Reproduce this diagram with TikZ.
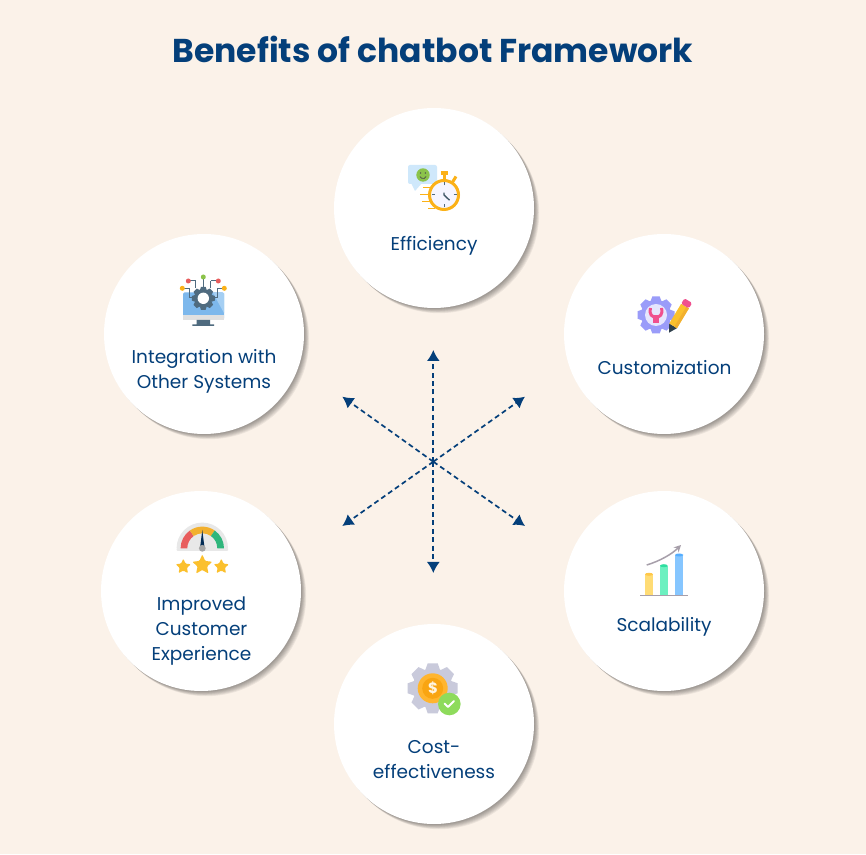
\documentclass[tikz,border=0pt]{standalone}
\usepackage{fontspec}
\usepackage{xcolor}
\setmainfont{Poppins}
\usetikzlibrary{positioning,arrows.meta,shapes.geometric}

\definecolor{pagebg}{HTML}{FBF2E9}
\definecolor{navy}{HTML}{043F7A}
\definecolor{watch}{HTML}{FBB117}
\definecolor{slate}{HTML}{4F6B7F}
\definecolor{lilac}{HTML}{9A9CF9}
\definecolor{hotpink}{HTML}{F0508E}
\definecolor{stargold}{HTML}{FBC02D}
\definecolor{steel}{HTML}{C9CADB}
\definecolor{mauve}{HTML}{A79FAA}
\definecolor{bubble}{HTML}{CFE8FB}
\definecolor{smile}{HTML}{8BC34A}
\definecolor{screen}{HTML}{7DB8EC}
\definecolor{screenlit}{HTML}{A5CFF3}
\definecolor{gaugered}{HTML}{E85D5D}
\definecolor{gaugeamber}{HTML}{F2B02E}
\definecolor{gaugegreen}{HTML}{2FB67C}
\definecolor{barblue}{HTML}{86C6FF}
\definecolor{barbluetop}{HTML}{55AEFF}
\definecolor{barmint}{HTML}{6CF0C0}
\definecolor{barminttop}{HTML}{2EDFA0}
\definecolor{baryellow}{HTML}{FFDC75}
\definecolor{baryellowtop}{HTML}{FFC84A}
\definecolor{coin}{HTML}{FFB52E}
\definecolor{coindeep}{HTML}{F59A00}
\definecolor{tick}{HTML}{8EDB5C}

% teeth and body of a cog: centre, outer radius, root radius, colour
\newcommand{\cogwheel}[4]{
 \fill[#4] (#1) circle (#3);
 \foreach \ang in {0,45,...,315}
  \fill[#4,rotate around={\ang:(#1)}] ([xshift=-#2*0.3pt,yshift=#3*0.9pt]#1) -- ([xshift=-#2*0.2pt,yshift=#2*1pt]#1)
   -- ([xshift=#2*0.2pt,yshift=#2*1pt]#1) -- ([xshift=#2*0.3pt,yshift=#3*0.9pt]#1) -- cycle;
}

\begin{document}
\begin{tikzpicture}[
 x=1pt,y=1pt,
 disc/.style={circle,fill=white,minimum size=200pt,inner sep=0pt},
 shade/.style={fill=black,opacity=0.06},
 lab/.style={font=\fontsize{18.5}{25}\selectfont,text=navy,align=center},
 spoke/.style={-{Latex[length=11pt,width=13pt]},navy,line width=1.7pt,dash pattern=on 5pt off 3.4pt},
 rim/.style={draw=slate,line width=1pt},
 ratestar/.style={star,star points=5,star point ratio=2.1,fill=stargold,inner sep=0pt,rounded corners=1pt}
]
\fill[pagebg] (0,0) rectangle (866,854);
\useasboundingbox (0,0) rectangle (866,854);

\node[font=\fontsize{33}{38}\selectfont\bfseries,text=navy] (title) at (433,805) {Benefits of chatbot Framework};

\foreach \nm/\cx/\cy in {top/434/646,upleft/204/520,upright/664/520,lowleft/201/263,lowright/664/263,bottom/434/130}{
 \foreach \o in {1,1.7,2.4,3.1,3.8,4.5,5.2}
  \fill[shade] (\cx+\o,\cy-\o) circle (100);
 \node[disc] (\nm) at (\cx,\cy) {};
}

\node[lab] (efficiency) at (434,608) {Efficiency};
\node[lab] (integration) at (204,483) {Integration with\\Other Systems};
\node[lab] (customization) at (664.5,486) {Customization};
\node[lab] (experience) at (201.5,223) {Improved\\Customer\\Experience};
\node[lab] (scalability) at (664,227) {Scalability};
\node[lab] (cost) at (434,94) {Cost-\\effectiveness};

\coordinate (hub) at (433.3,392.3);
\coordinate (tipn) at (433.3,504);
\coordinate (tips) at (433.3,281);
\coordinate (tipnw) at (342.3,457.3);
\coordinate (tipne) at (525,457.3);
\coordinate (tipsw) at (342.3,328);
\coordinate (tipse) at (525,328);
\foreach \a in {tipn,tips,tipnw,tipne,tipsw,tipse}
 \draw[spoke] (hub)--(\a);

% efficiency
\fill[bubble,rounded corners=2pt] (408,689) rectangle (437,670);
\fill[bubble] (411,671)--(415,663)--(422,671)--cycle;
\fill[smile] (423,679) circle (6.7);
\fill[black!70] (420.6,681) circle (0.8) (425.4,681) circle (0.8);
\draw[black!70,line width=0.7pt] (420,677.5) arc (200:340:3.2);
\foreach \xa/\xb/\yy in {423/432/666.3,420/428/659.7,422/430/652.3,428/435/645.7}
 \draw[watch,line width=1.4pt] (\xa,\yy)--(\xb,\yy);
\fill[watch] (441,679) rectangle (447.5,682.5);
\fill[watch] (442.5,672) rectangle (445.5,680);
\draw[watch,line width=3pt] (452,671)--(456,677.5);
\draw[watch,fill=blue!4,line width=3pt] (444,659) circle (14.5);
\foreach \ang in {0,90,180,270}
 \draw[slate,line width=1pt] (444,659)++(\ang:9.5)--++(\ang:3);
\draw[slate!80!black,line width=1.4pt,line cap=round] (449.3,654)--(444,659)--(444,661);

% integration
\fill[screen,rounded corners=1.5pt] (183,561.7) rectangle (224,534);
\fill[screenlit] (224,561)--(213,561)--(224,541)--cycle;
\fill[black!12] (183,539) rectangle (224,534);
\fill[slate] (196.7,534) rectangle (210,529) (192.3,529.5) rectangle (214,528);
\foreach \x in {195.7,210.9}
 \draw[rim] (\x,566)--(\x,573);
\draw[rim] (188.3,573)--(195.7,573);
\draw[rim] (218.3,573)--(210.9,573);
\draw[rim] (182.3,565.7)--(189.3,565.7)--(189.3,556.7)--(193.3,556.7);
\draw[rim] (224.3,565.7)--(217.3,565.7)--(217.3,556.7)--(213.3,556.7);
\draw[rim] (203.3,577)--(203.3,566);
\cogwheel{203.3,555.7}{11.5}{9}{slate}
\fill[white] (203.3,555.7) circle (5.7);
\fill[smile] (203.3,577) circle (2.5);
\fill[gaugered] (188.3,573) circle (2.5) (218.3,573) circle (2.5);
\fill[watch] (182.3,565.7) circle (2.5) (224.3,565.7) circle (2.5);

% customization
\cogwheel{656,539}{18.5}{15}{lilac}
\fill[lilac!25!white] (656,539) circle (11);
\draw[hotpink,line width=3pt] (650.5,546) .. controls (649,539) and (652,537) .. (656,537) .. controls (660,537) and (663,539) .. (661.5,546);
\fill[hotpink] (653.3,539) rectangle (658.7,530.5);
\begin{scope}[shift={(669,521.3)},rotate=59]
 \fill[slate!60!black] (0,0)--(8,4.5)--(8,-4.5)--cycle;
 \fill[stargold] (8,-4.5) rectangle (31,4.5);
 \fill[gaugeamber] (8,-4.5) rectangle (31,-1.5);
 \fill[hotpink,rounded corners=1.5pt] (31,-4.5) rectangle (37.4,4.5);
\end{scope}

% experience
\fill[black!9,rounded corners=1pt] (176.6,303) rectangle (228,306);
\fill[black!9] (228,305.7) arc (0:180:25.7)--cycle;
\begin{scope}[shift={(202.3,305.7)}]
 \foreach \ang/\angb/\col in {180/125/gaugered,125/55/gaugeamber,55/0/gaugegreen}
  \fill[\col] (\ang:21.7) arc (\ang:\angb:21.7)--(\angb:15) arc (\angb:\ang:15)--cycle;
 \fill[navy!70!black] (-2.3,0)--(0,18.3)--(2.3,0)--cycle;
 \fill[black!35] (0,0) circle (3.4);
\end{scope}
\node[ratestar,minimum size=16pt] (starl) at (183.3,287.3) {};
\node[ratestar,minimum size=21pt] (starm) at (202.3,289) {};
\node[ratestar,minimum size=16pt] (starr) at (221.3,287.3) {};

% scalability
\fill[baryellow] (645,258.7) rectangle (653,279.7);
\fill[baryellowtop] (649,279.7) ellipse (4 and 1.5);
\fill[barmint] (660,258.7) rectangle (667.7,288.3);
\fill[barminttop] (663.85,288.3) ellipse (3.85 and 1.5);
\fill[barblue] (675,258.7) rectangle (683.3,299);
\fill[barbluetop] (679.15,299) ellipse (4.15 and 1.5);
\draw[mauve,line width=1.5pt] (640,258.7)--(687.7,258.7);
\draw[mauve,line width=1.5pt,-{Stealth[length=7pt,width=7pt]}] (646.7,289) .. controls (660,293) and (672,300) .. (681,309);

% cost
\cogwheel{432.7,165.7}{25}{20}{steel}
\fill[coin] (432.7,165.7) circle (15);
\fill[coindeep!60!coin] (432.7,165.7) circle (10.5);
\node[font=\fontsize{15}{15}\selectfont\bfseries,text=white!85!coin,inner sep=0pt] (dollar) at (433,165.7) {\$};
\fill[tick] (449.3,150) circle (11.3);
\draw[white,line width=2pt,line cap=round,line join=round] (444.5,150.5)--(448,147)--(454,153);
\end{tikzpicture}
\end{document}
